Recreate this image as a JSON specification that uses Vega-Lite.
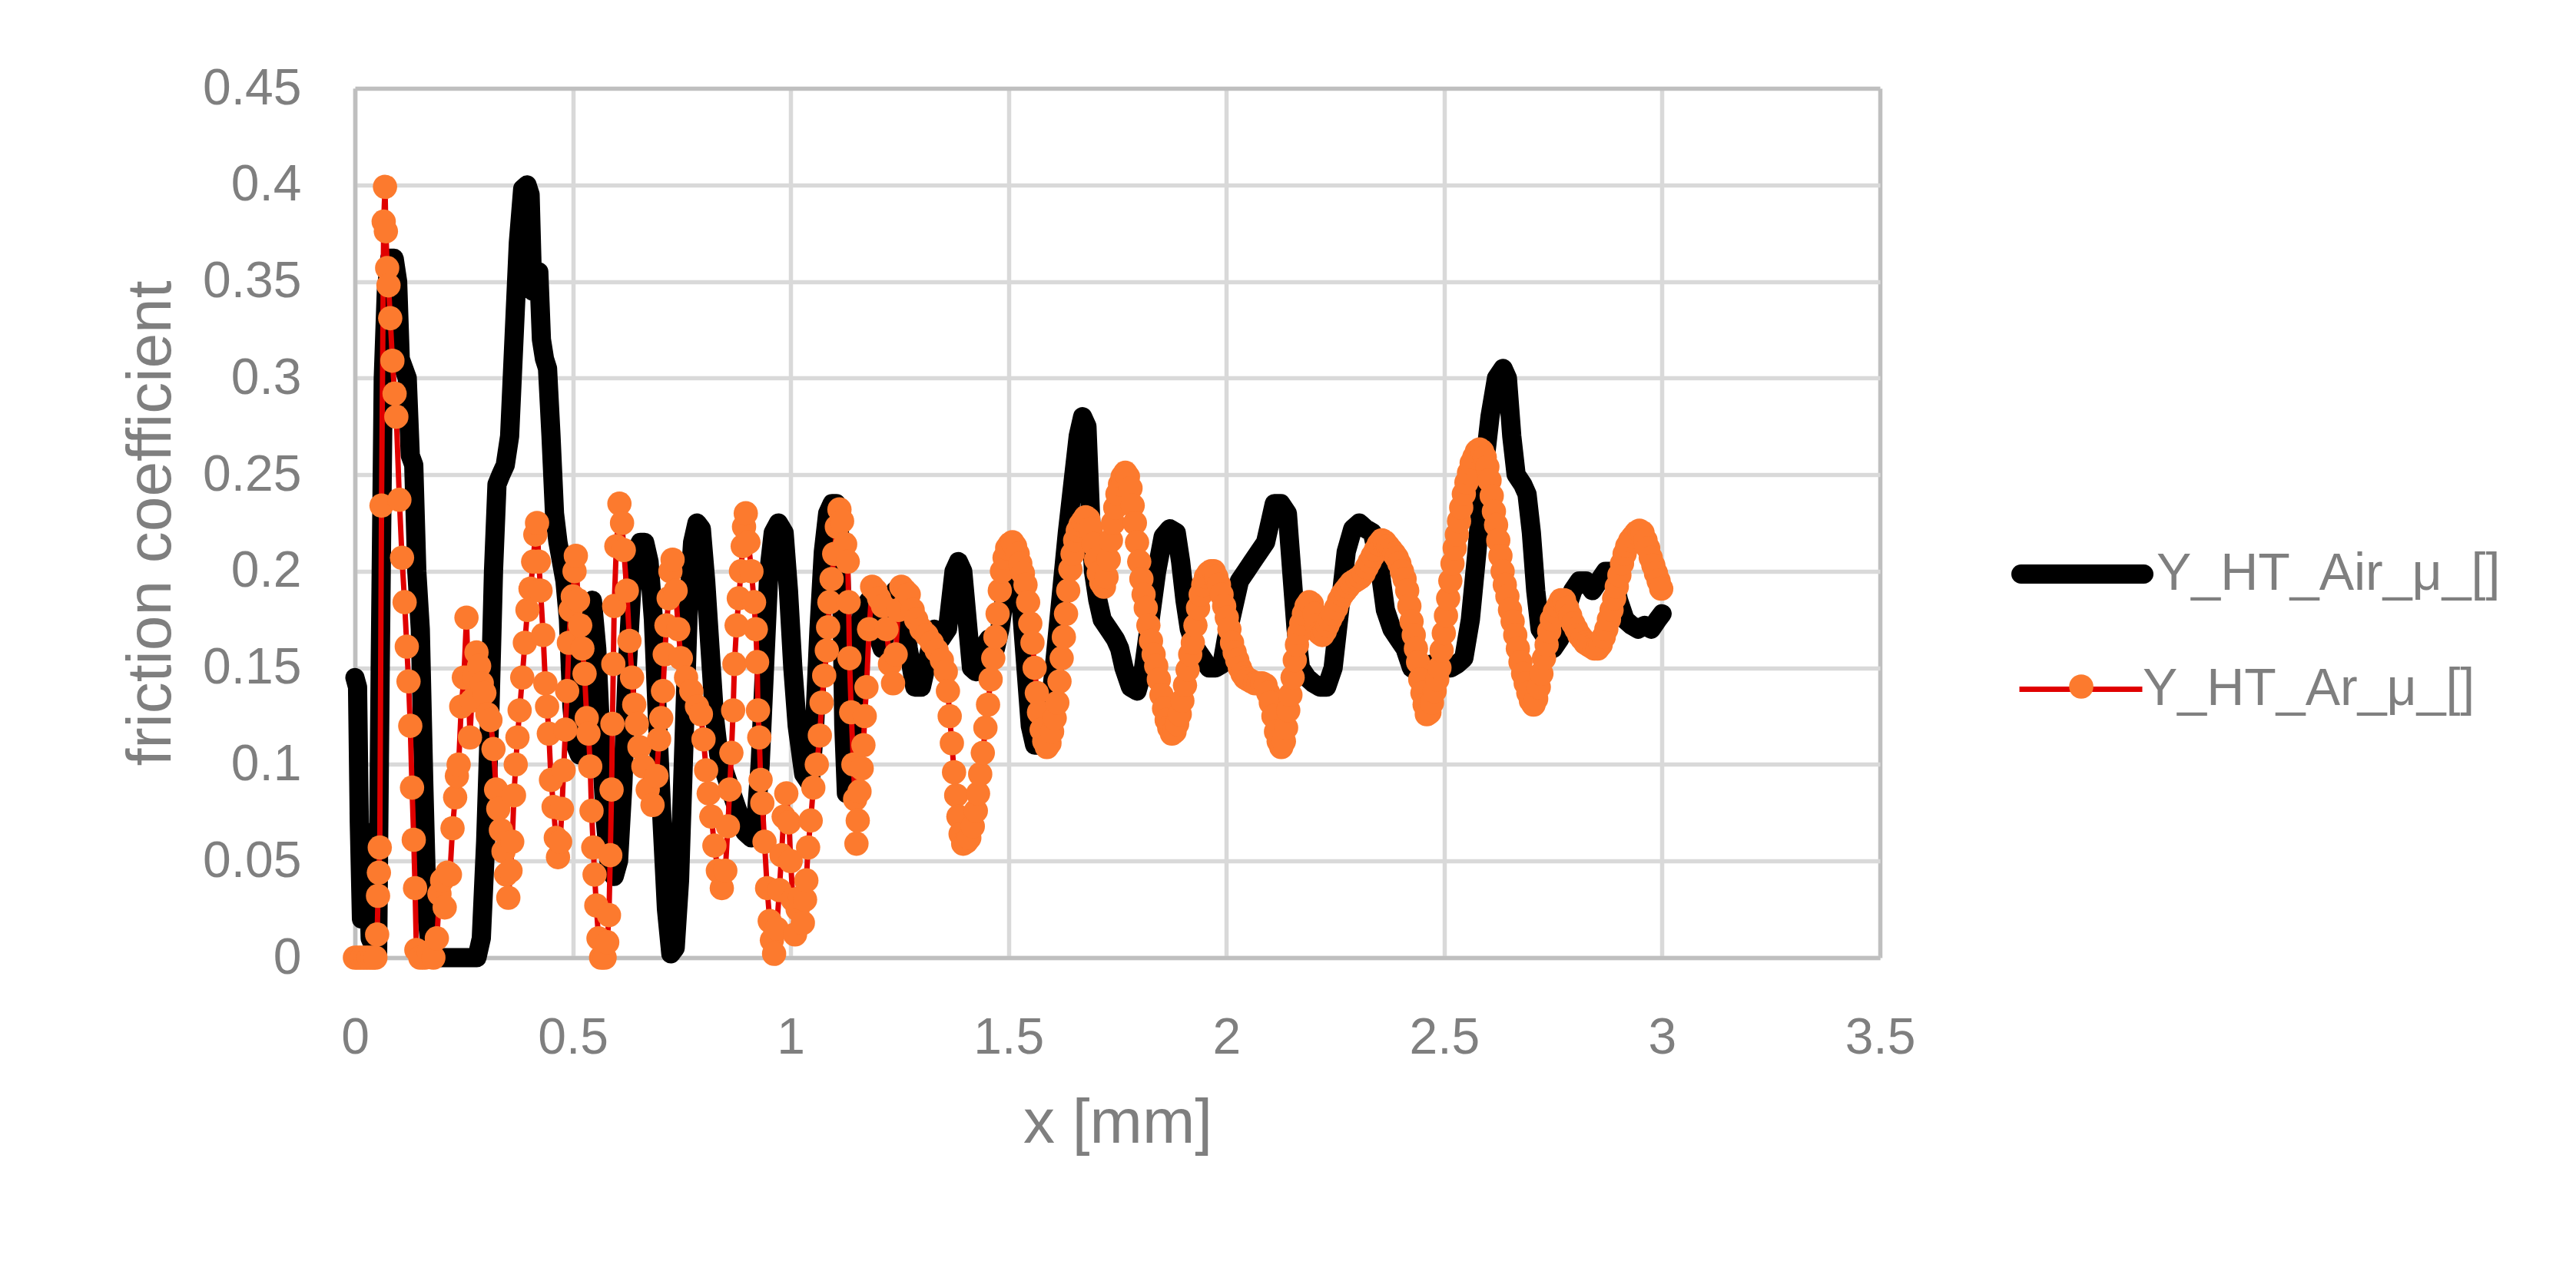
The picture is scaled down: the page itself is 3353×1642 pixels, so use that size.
{
"$schema": "https://vega.github.io/schema/vega-lite/v6.json",
"width": 1985, "height": 1132,
"autosize": {"type": "none"},
"padding": {"left": 462, "top": 115, "right": 906, "bottom": 395},
"background": "white",
"config": {"font": "Liberation Sans", "view": {"stroke": null}},
"datasets": {
"air": [{"x":0,"y":0.145},{"x":0.006,"y":0.14},{"x":0.01,"y":0.07},{"x":0.015,"y":0.02},{"x":0.02,"y":0.06},{"x":0.028,"y":0.065},{"x":0.035,"y":0.01},{"x":0.045,"y":0.005},{"x":0.052,"y":0},{"x":0.058,"y":0.15},{"x":0.065,"y":0.3},{"x":0.072,"y":0.345},{"x":0.08,"y":0.362},{"x":0.09,"y":0.362},{"x":0.098,"y":0.35},{"x":0.104,"y":0.31},{"x":0.112,"y":0.305},{"x":0.12,"y":0.3},{"x":0.127,"y":0.26},{"x":0.135,"y":0.255},{"x":0.142,"y":0.2},{"x":0.15,"y":0.17},{"x":0.158,"y":0.09},{"x":0.166,"y":0.02},{"x":0.175,"y":0},{"x":0.2,"y":0},{"x":0.23,"y":0},{"x":0.26,"y":0},{"x":0.28,"y":0},{"x":0.29,"y":0.01},{"x":0.3,"y":0.06},{"x":0.31,"y":0.13},{"x":0.318,"y":0.2},{"x":0.326,"y":0.245},{"x":0.335,"y":0.25},{"x":0.345,"y":0.255},{"x":0.355,"y":0.27},{"x":0.365,"y":0.32},{"x":0.375,"y":0.37},{"x":0.385,"y":0.398},{"x":0.395,"y":0.4},{"x":0.402,"y":0.395},{"x":0.408,"y":0.345},{"x":0.415,"y":0.355},{"x":0.422,"y":0.355},{"x":0.428,"y":0.32},{"x":0.435,"y":0.31},{"x":0.442,"y":0.305},{"x":0.45,"y":0.27},{"x":0.458,"y":0.23},{"x":0.466,"y":0.215},{"x":0.474,"y":0.205},{"x":0.482,"y":0.195},{"x":0.49,"y":0.175},{"x":0.498,"y":0.13},{"x":0.506,"y":0.11},{"x":0.515,"y":0.105},{"x":0.525,"y":0.108},{"x":0.535,"y":0.15},{"x":0.545,"y":0.185},{"x":0.555,"y":0.16},{"x":0.565,"y":0.11},{"x":0.575,"y":0.07},{"x":0.585,"y":0.045},{"x":0.595,"y":0.042},{"x":0.605,"y":0.05},{"x":0.615,"y":0.09},{"x":0.625,"y":0.15},{"x":0.635,"y":0.19},{"x":0.645,"y":0.21},{"x":0.655,"y":0.215},{"x":0.665,"y":0.215},{"x":0.675,"y":0.205},{"x":0.685,"y":0.175},{"x":0.695,"y":0.12},{"x":0.705,"y":0.07},{"x":0.715,"y":0.025},{"x":0.725,"y":0.002},{"x":0.735,"y":0.005},{"x":0.745,"y":0.04},{"x":0.755,"y":0.11},{"x":0.765,"y":0.18},{"x":0.775,"y":0.215},{"x":0.785,"y":0.225},{"x":0.795,"y":0.222},{"x":0.805,"y":0.195},{"x":0.815,"y":0.16},{"x":0.825,"y":0.125},{"x":0.835,"y":0.105},{"x":0.85,"y":0.095},{"x":0.865,"y":0.085},{"x":0.88,"y":0.075},{"x":0.895,"y":0.065},{"x":0.91,"y":0.062},{"x":0.92,"y":0.07},{"x":0.93,"y":0.1},{"x":0.94,"y":0.15},{"x":0.95,"y":0.2},{"x":0.96,"y":0.22},{"x":0.972,"y":0.225},{"x":0.985,"y":0.22},{"x":0.995,"y":0.19},{"x":1.005,"y":0.15},{"x":1.015,"y":0.12},{"x":1.03,"y":0.095},{"x":1.045,"y":0.09},{"x":1.055,"y":0.12},{"x":1.065,"y":0.17},{"x":1.075,"y":0.21},{"x":1.085,"y":0.23},{"x":1.095,"y":0.235},{"x":1.105,"y":0.235},{"x":1.112,"y":0.22},{"x":1.118,"y":0.18},{"x":1.122,"y":0.12},{"x":1.128,"y":0.085},{"x":1.135,"y":0.085},{"x":1.145,"y":0.13},{"x":1.155,"y":0.165},{"x":1.165,"y":0.18},{"x":1.18,"y":0.185},{"x":1.195,"y":0.17},{"x":1.21,"y":0.16},{"x":1.225,"y":0.175},{"x":1.24,"y":0.19},{"x":1.255,"y":0.185},{"x":1.27,"y":0.16},{"x":1.285,"y":0.14},{"x":1.3,"y":0.14},{"x":1.315,"y":0.155},{"x":1.33,"y":0.17},{"x":1.345,"y":0.165},{"x":1.36,"y":0.17},{"x":1.375,"y":0.2},{"x":1.385,"y":0.205},{"x":1.395,"y":0.2},{"x":1.405,"y":0.175},{"x":1.415,"y":0.15},{"x":1.425,"y":0.148},{"x":1.44,"y":0.16},{"x":1.455,"y":0.165},{"x":1.47,"y":0.16},{"x":1.48,"y":0.17},{"x":1.49,"y":0.185},{"x":1.5,"y":0.2},{"x":1.51,"y":0.21},{"x":1.52,"y":0.205},{"x":1.53,"y":0.18},{"x":1.54,"y":0.15},{"x":1.55,"y":0.12},{"x":1.56,"y":0.11},{"x":1.575,"y":0.11},{"x":1.59,"y":0.12},{"x":1.605,"y":0.15},{"x":1.62,"y":0.185},{"x":1.635,"y":0.22},{"x":1.65,"y":0.25},{"x":1.66,"y":0.27},{"x":1.67,"y":0.28},{"x":1.68,"y":0.275},{"x":1.688,"y":0.23},{"x":1.695,"y":0.2},{"x":1.705,"y":0.185},{"x":1.715,"y":0.175},{"x":1.73,"y":0.17},{"x":1.745,"y":0.165},{"x":1.755,"y":0.16},{"x":1.765,"y":0.15},{"x":1.78,"y":0.14},{"x":1.795,"y":0.138},{"x":1.81,"y":0.15},{"x":1.825,"y":0.175},{"x":1.84,"y":0.2},{"x":1.855,"y":0.218},{"x":1.87,"y":0.222},{"x":1.885,"y":0.22},{"x":1.895,"y":0.205},{"x":1.905,"y":0.185},{"x":1.915,"y":0.17},{"x":1.93,"y":0.16},{"x":1.945,"y":0.155},{"x":1.96,"y":0.15},{"x":1.975,"y":0.15},{"x":1.99,"y":0.152},{"x":2.0,"y":0.165},{"x":2.015,"y":0.18},{"x":2.03,"y":0.195},{"x":2.045,"y":0.2},{"x":2.06,"y":0.205},{"x":2.075,"y":0.21},{"x":2.09,"y":0.215},{"x":2.1,"y":0.225},{"x":2.11,"y":0.235},{"x":2.125,"y":0.235},{"x":2.14,"y":0.23},{"x":2.15,"y":0.2},{"x":2.16,"y":0.17},{"x":2.17,"y":0.15},{"x":2.185,"y":0.145},{"x":2.2,"y":0.142},{"x":2.215,"y":0.14},{"x":2.23,"y":0.14},{"x":2.245,"y":0.15},{"x":2.26,"y":0.18},{"x":2.275,"y":0.21},{"x":2.29,"y":0.222},{"x":2.305,"y":0.225},{"x":2.32,"y":0.222},{"x":2.335,"y":0.22},{"x":2.35,"y":0.205},{"x":2.365,"y":0.18},{"x":2.38,"y":0.17},{"x":2.395,"y":0.165},{"x":2.41,"y":0.16},{"x":2.425,"y":0.15},{"x":2.44,"y":0.148},{"x":2.455,"y":0.15},{"x":2.47,"y":0.152},{"x":2.485,"y":0.152},{"x":2.5,"y":0.15},{"x":2.515,"y":0.15},{"x":2.53,"y":0.152},{"x":2.545,"y":0.155},{"x":2.56,"y":0.175},{"x":2.575,"y":0.21},{"x":2.59,"y":0.25},{"x":2.605,"y":0.28},{"x":2.62,"y":0.3},{"x":2.635,"y":0.305},{"x":2.645,"y":0.3},{"x":2.655,"y":0.27},{"x":2.665,"y":0.25},{"x":2.68,"y":0.245},{"x":2.69,"y":0.24},{"x":2.7,"y":0.22},{"x":2.71,"y":0.19},{"x":2.72,"y":0.17},{"x":2.735,"y":0.165},{"x":2.75,"y":0.16},{"x":2.765,"y":0.165},{"x":2.78,"y":0.18},{"x":2.795,"y":0.19},{"x":2.81,"y":0.195},{"x":2.825,"y":0.195},{"x":2.84,"y":0.19},{"x":2.855,"y":0.195},{"x":2.87,"y":0.2},{"x":2.885,"y":0.2},{"x":2.9,"y":0.185},{"x":2.915,"y":0.175},{"x":2.93,"y":0.172},{"x":2.945,"y":0.17},{"x":2.96,"y":0.172},{"x":2.975,"y":0.17},{"x":2.99,"y":0.175},{"x":3.0,"y":0.178}],
"ar": [{"x":0,"y":0},{"x":0.008,"y":0},{"x":0.016,"y":0},{"x":0.024,"y":0},{"x":0.032,"y":0},{"x":0.04,"y":0},{"x":0.047,"y":0},{"x":0.051,"y":0.012},{"x":0.053,"y":0.032},{"x":0.055,"y":0.044},{"x":0.057,"y":0.057},{"x":0.061,"y":0.234},{"x":0.066,"y":0.381},{"x":0.069,"y":0.399},{"x":0.071,"y":0.376},{"x":0.074,"y":0.357},{"x":0.077,"y":0.348},{"x":0.081,"y":0.331},{"x":0.086,"y":0.309},{"x":0.091,"y":0.292},{"x":0.095,"y":0.28},{"x":0.102,"y":0.237},{"x":0.108,"y":0.207},{"x":0.114,"y":0.184},{"x":0.119,"y":0.161},{"x":0.123,"y":0.143},{"x":0.127,"y":0.12},{"x":0.131,"y":0.088},{"x":0.135,"y":0.061},{"x":0.138,"y":0.036},{"x":0.141,"y":0.004},{"x":0.15,"y":0},{"x":0.16,"y":0},{"x":0.17,"y":0.003},{"x":0.18,"y":0},{"x":0.188,"y":0.01},{"x":0.194,"y":0.033},{"x":0.2,"y":0.04},{"x":0.206,"y":0.026},{"x":0.212,"y":0.044},{"x":0.218,"y":0.043},{"x":0.224,"y":0.067},{"x":0.23,"y":0.083},{"x":0.234,"y":0.094},{"x":0.238,"y":0.1},{"x":0.244,"y":0.13},{"x":0.25,"y":0.145},{"x":0.256,"y":0.176},{"x":0.26,"y":0.145},{"x":0.264,"y":0.114},{"x":0.268,"y":0.133},{"x":0.273,"y":0.145},{"x":0.279,"y":0.158},{"x":0.285,"y":0.151},{"x":0.291,"y":0.142},{"x":0.297,"y":0.137},{"x":0.304,"y":0.126},{"x":0.311,"y":0.123},{"x":0.318,"y":0.108},{"x":0.324,"y":0.087},{"x":0.329,"y":0.077},{"x":0.335,"y":0.066},{"x":0.341,"y":0.055},{"x":0.347,"y":0.043},{"x":0.352,"y":0.031},{"x":0.357,"y":0.045},{"x":0.361,"y":0.06},{"x":0.365,"y":0.084},{"x":0.369,"y":0.1},{"x":0.373,"y":0.114},{"x":0.378,"y":0.128},{"x":0.384,"y":0.145},{"x":0.39,"y":0.163},{"x":0.396,"y":0.18},{"x":0.403,"y":0.191},{"x":0.409,"y":0.205},{"x":0.414,"y":0.219},{"x":0.418,"y":0.225},{"x":0.422,"y":0.205},{"x":0.426,"y":0.19},{"x":0.432,"y":0.167},{"x":0.437,"y":0.142},{"x":0.441,"y":0.13},{"x":0.445,"y":0.116},{"x":0.45,"y":0.092},{"x":0.456,"y":0.078},{"x":0.461,"y":0.062},{"x":0.466,"y":0.052},{"x":0.471,"y":0.06},{"x":0.475,"y":0.077},{"x":0.479,"y":0.097},{"x":0.483,"y":0.118},{"x":0.487,"y":0.138},{"x":0.491,"y":0.163},{"x":0.495,"y":0.18},{"x":0.5,"y":0.187},{"x":0.504,"y":0.2},{"x":0.507,"y":0.208},{"x":0.512,"y":0.185},{"x":0.517,"y":0.172},{"x":0.522,"y":0.16},{"x":0.527,"y":0.147},{"x":0.532,"y":0.124},{"x":0.536,"y":0.116},{"x":0.54,"y":0.099},{"x":0.543,"y":0.076},{"x":0.547,"y":0.057},{"x":0.55,"y":0.043},{"x":0.554,"y":0.027},{"x":0.559,"y":0.01},{"x":0.565,"y":0},{"x":0.573,"y":0},{"x":0.579,"y":0.008},{"x":0.583,"y":0.022},{"x":0.586,"y":0.053},{"x":0.589,"y":0.087},{"x":0.591,"y":0.121},{"x":0.593,"y":0.152},{"x":0.595,"y":0.182},{"x":0.6,"y":0.213},{"x":0.607,"y":0.235},{"x":0.613,"y":0.225},{"x":0.617,"y":0.211},{"x":0.624,"y":0.19},{"x":0.63,"y":0.164},{"x":0.636,"y":0.145},{"x":0.641,"y":0.131},{"x":0.647,"y":0.121},{"x":0.653,"y":0.109},{"x":0.662,"y":0.099},{"x":0.672,"y":0.087},{"x":0.683,"y":0.079},{"x":0.692,"y":0.094},{"x":0.698,"y":0.113},{"x":0.703,"y":0.124},{"x":0.707,"y":0.138},{"x":0.711,"y":0.157},{"x":0.715,"y":0.172},{"x":0.72,"y":0.186},{"x":0.724,"y":0.2},{"x":0.729,"y":0.206},{"x":0.736,"y":0.19},{"x":0.742,"y":0.17},{"x":0.748,"y":0.155},{"x":0.76,"y":0.145},{"x":0.772,"y":0.138},{"x":0.785,"y":0.13},{"x":0.794,"y":0.126},{"x":0.8,"y":0.113},{"x":0.806,"y":0.097},{"x":0.812,"y":0.085},{"x":0.818,"y":0.073},{"x":0.825,"y":0.058},{"x":0.833,"y":0.045},{"x":0.842,"y":0.036},{"x":0.85,"y":0.045},{"x":0.856,"y":0.068},{"x":0.86,"y":0.087},{"x":0.864,"y":0.106},{"x":0.868,"y":0.128},{"x":0.871,"y":0.152},{"x":0.876,"y":0.172},{"x":0.881,"y":0.186},{"x":0.886,"y":0.2},{"x":0.89,"y":0.213},{"x":0.893,"y":0.223},{"x":0.897,"y":0.23},{"x":0.903,"y":0.215},{"x":0.91,"y":0.2},{"x":0.916,"y":0.184},{"x":0.92,"y":0.17},{"x":0.923,"y":0.153},{"x":0.925,"y":0.128},{"x":0.928,"y":0.114},{"x":0.931,"y":0.092},{"x":0.935,"y":0.08},{"x":0.94,"y":0.06},{"x":0.946,"y":0.036},{"x":0.952,"y":0.019},{"x":0.957,"y":0.009},{"x":0.962,"y":0.002},{"x":0.968,"y":0.015},{"x":0.974,"y":0.035},{"x":0.979,"y":0.053},{"x":0.984,"y":0.073},{"x":0.99,"y":0.085},{"x":0.996,"y":0.07},{"x":1.0,"y":0.05},{"x":1.005,"y":0.03},{"x":1.01,"y":0.012},{"x":1.016,"y":0.025},{"x":1.022,"y":0.031},{"x":1.028,"y":0.018},{"x":1.033,"y":0.03},{"x":1.036,"y":0.04},{"x":1.04,"y":0.057},{"x":1.046,"y":0.071},{"x":1.052,"y":0.088},{"x":1.06,"y":0.1},{"x":1.067,"y":0.115},{"x":1.071,"y":0.132},{"x":1.077,"y":0.146},{"x":1.083,"y":0.159},{"x":1.086,"y":0.171},{"x":1.089,"y":0.184},{"x":1.094,"y":0.196},{"x":1.1,"y":0.209},{"x":1.106,"y":0.223},{"x":1.112,"y":0.232},{"x":1.118,"y":0.226},{"x":1.125,"y":0.214},{"x":1.131,"y":0.205},{"x":1.133,"y":0.184},{"x":1.135,"y":0.155},{"x":1.139,"y":0.127},{"x":1.144,"y":0.1},{"x":1.148,"y":0.082},{"x":1.151,"y":0.059},{"x":1.154,"y":0.071},{"x":1.158,"y":0.086},{"x":1.163,"y":0.098},{"x":1.167,"y":0.11},{"x":1.17,"y":0.125},{"x":1.174,"y":0.14},{"x":1.18,"y":0.17},{"x":1.187,"y":0.192},{"x":1.195,"y":0.19},{"x":1.203,"y":0.186},{"x":1.212,"y":0.182},{"x":1.22,"y":0.17},{"x":1.228,"y":0.152},{"x":1.235,"y":0.142},{"x":1.241,"y":0.157},{"x":1.247,"y":0.18},{"x":1.254,"y":0.192},{"x":1.262,"y":0.19},{"x":1.271,"y":0.188},{"x":1.28,"y":0.18},{"x":1.288,"y":0.175},{"x":1.3,"y":0.17},{"x":1.312,"y":0.167},{"x":1.324,"y":0.163},{"x":1.335,"y":0.159},{"x":1.347,"y":0.154},{"x":1.356,"y":0.148},{"x":1.361,"y":0.138},{"x":1.365,"y":0.125},{"x":1.37,"y":0.111},{"x":1.375,"y":0.096},{"x":1.38,"y":0.084},{"x":1.385,"y":0.073},{"x":1.39,"y":0.064},{"x":1.396,"y":0.059},{"x":1.403,"y":0.06},{"x":1.41,"y":0.062},{"x":1.418,"y":0.068},{"x":1.425,"y":0.076},{"x":1.43,"y":0.085},{"x":1.435,"y":0.095},{"x":1.441,"y":0.106},{"x":1.447,"y":0.119},{"x":1.453,"y":0.131},{"x":1.459,"y":0.144},{"x":1.465,"y":0.155},{"x":1.47,"y":0.166},{"x":1.475,"y":0.178},{"x":1.48,"y":0.19},{"x":1.485,"y":0.2},{"x":1.491,"y":0.207},{"x":1.497,"y":0.212},{"x":1.503,"y":0.214},{"x":1.509,"y":0.215},{"x":1.515,"y":0.213},{"x":1.521,"y":0.209},{"x":1.527,"y":0.204},{"x":1.533,"y":0.199},{"x":1.539,"y":0.193},{"x":1.545,"y":0.184},{"x":1.55,"y":0.173},{"x":1.555,"y":0.163},{"x":1.56,"y":0.15},{"x":1.565,"y":0.137},{"x":1.57,"y":0.127},{"x":1.576,"y":0.118},{"x":1.582,"y":0.112},{"x":1.588,"y":0.109},{"x":1.594,"y":0.111},{"x":1.6,"y":0.117},{"x":1.606,"y":0.124},{"x":1.612,"y":0.132},{"x":1.617,"y":0.143},{"x":1.622,"y":0.155},{"x":1.627,"y":0.166},{"x":1.632,"y":0.178},{"x":1.637,"y":0.19},{"x":1.642,"y":0.201},{"x":1.647,"y":0.209},{"x":1.653,"y":0.216},{"x":1.659,"y":0.221},{"x":1.665,"y":0.224},{"x":1.671,"y":0.226},{"x":1.677,"y":0.228},{"x":1.683,"y":0.227},{"x":1.689,"y":0.222},{"x":1.695,"y":0.214},{"x":1.701,"y":0.206},{"x":1.707,"y":0.199},{"x":1.713,"y":0.194},{"x":1.719,"y":0.192},{"x":1.725,"y":0.197},{"x":1.73,"y":0.206},{"x":1.735,"y":0.216},{"x":1.74,"y":0.225},{"x":1.745,"y":0.233},{"x":1.75,"y":0.24},{"x":1.756,"y":0.245},{"x":1.762,"y":0.249},{"x":1.768,"y":0.251},{"x":1.774,"y":0.249},{"x":1.78,"y":0.243},{"x":1.785,"y":0.234},{"x":1.79,"y":0.225},{"x":1.795,"y":0.215},{"x":1.8,"y":0.205},{"x":1.805,"y":0.196},{"x":1.81,"y":0.188},{"x":1.815,"y":0.181},{"x":1.821,"y":0.172},{"x":1.827,"y":0.164},{"x":1.833,"y":0.157},{"x":1.839,"y":0.151},{"x":1.845,"y":0.144},{"x":1.851,"y":0.136},{"x":1.857,"y":0.129},{"x":1.863,"y":0.123},{"x":1.869,"y":0.119},{"x":1.875,"y":0.116},{"x":1.881,"y":0.117},{"x":1.887,"y":0.121},{"x":1.893,"y":0.126},{"x":1.899,"y":0.133},{"x":1.905,"y":0.141},{"x":1.911,"y":0.149},{"x":1.917,"y":0.157},{"x":1.923,"y":0.163},{"x":1.929,"y":0.172},{"x":1.935,"y":0.181},{"x":1.941,"y":0.188},{"x":1.947,"y":0.193},{"x":1.953,"y":0.197},{"x":1.959,"y":0.199},{"x":1.965,"y":0.2},{"x":1.971,"y":0.2},{"x":1.977,"y":0.197},{"x":1.983,"y":0.193},{"x":1.989,"y":0.188},{"x":1.995,"y":0.182},{"x":2.001,"y":0.176},{"x":2.007,"y":0.17},{"x":2.013,"y":0.163},{"x":2.019,"y":0.158},{"x":2.025,"y":0.154},{"x":2.031,"y":0.15},{"x":2.037,"y":0.147},{"x":2.043,"y":0.145},{"x":2.05,"y":0.144},{"x":2.058,"y":0.143},{"x":2.066,"y":0.142},{"x":2.074,"y":0.142},{"x":2.082,"y":0.142},{"x":2.09,"y":0.141},{"x":2.096,"y":0.137},{"x":2.102,"y":0.132},{"x":2.108,"y":0.125},{"x":2.114,"y":0.117},{"x":2.12,"y":0.112},{"x":2.126,"y":0.109},{"x":2.132,"y":0.112},{"x":2.137,"y":0.119},{"x":2.142,"y":0.128},{"x":2.147,"y":0.136},{"x":2.152,"y":0.145},{"x":2.157,"y":0.154},{"x":2.162,"y":0.162},{"x":2.167,"y":0.168},{"x":2.172,"y":0.173},{"x":2.178,"y":0.178},{"x":2.184,"y":0.182},{"x":2.19,"y":0.184},{"x":2.196,"y":0.183},{"x":2.202,"y":0.178},{"x":2.208,"y":0.172},{"x":2.214,"y":0.168},{"x":2.22,"y":0.167},{"x":2.226,"y":0.169},{"x":2.232,"y":0.172},{"x":2.238,"y":0.175},{"x":2.245,"y":0.178},{"x":2.252,"y":0.181},{"x":2.259,"y":0.185},{"x":2.266,"y":0.188},{"x":2.273,"y":0.19},{"x":2.28,"y":0.192},{"x":2.287,"y":0.194},{"x":2.294,"y":0.195},{"x":2.301,"y":0.196},{"x":2.308,"y":0.197},{"x":2.315,"y":0.199},{"x":2.322,"y":0.202},{"x":2.329,"y":0.205},{"x":2.336,"y":0.208},{"x":2.343,"y":0.211},{"x":2.35,"y":0.214},{"x":2.357,"y":0.216},{"x":2.364,"y":0.215},{"x":2.371,"y":0.213},{"x":2.378,"y":0.211},{"x":2.385,"y":0.209},{"x":2.391,"y":0.207},{"x":2.397,"y":0.204},{"x":2.403,"y":0.2},{"x":2.409,"y":0.196},{"x":2.415,"y":0.19},{"x":2.42,"y":0.182},{"x":2.425,"y":0.174},{"x":2.43,"y":0.167},{"x":2.435,"y":0.16},{"x":2.44,"y":0.153},{"x":2.445,"y":0.144},{"x":2.45,"y":0.137},{"x":2.455,"y":0.131},{"x":2.46,"y":0.126},{"x":2.466,"y":0.127},{"x":2.472,"y":0.132},{"x":2.478,"y":0.138},{"x":2.484,"y":0.144},{"x":2.489,"y":0.15},{"x":2.494,"y":0.159},{"x":2.499,"y":0.168},{"x":2.504,"y":0.177},{"x":2.509,"y":0.186},{"x":2.514,"y":0.195},{"x":2.519,"y":0.204},{"x":2.524,"y":0.212},{"x":2.529,"y":0.219},{"x":2.534,"y":0.226},{"x":2.539,"y":0.233},{"x":2.545,"y":0.24},{"x":2.551,"y":0.246},{"x":2.557,"y":0.251},{"x":2.563,"y":0.256},{"x":2.569,"y":0.259},{"x":2.575,"y":0.262},{"x":2.581,"y":0.263},{"x":2.587,"y":0.262},{"x":2.593,"y":0.259},{"x":2.599,"y":0.254},{"x":2.604,"y":0.247},{"x":2.609,"y":0.239},{"x":2.614,"y":0.231},{"x":2.619,"y":0.224},{"x":2.624,"y":0.216},{"x":2.629,"y":0.208},{"x":2.634,"y":0.2},{"x":2.639,"y":0.193},{"x":2.645,"y":0.187},{"x":2.651,"y":0.18},{"x":2.657,"y":0.174},{"x":2.663,"y":0.167},{"x":2.669,"y":0.16},{"x":2.675,"y":0.153},{"x":2.681,"y":0.147},{"x":2.687,"y":0.142},{"x":2.693,"y":0.137},{"x":2.699,"y":0.133},{"x":2.705,"y":0.131},{"x":2.711,"y":0.134},{"x":2.717,"y":0.14},{"x":2.723,"y":0.147},{"x":2.729,"y":0.155},{"x":2.735,"y":0.162},{"x":2.741,"y":0.169},{"x":2.747,"y":0.175},{"x":2.754,"y":0.179},{"x":2.761,"y":0.182},{"x":2.768,"y":0.185},{"x":2.775,"y":0.185},{"x":2.782,"y":0.181},{"x":2.789,"y":0.177},{"x":2.796,"y":0.173},{"x":2.803,"y":0.17},{"x":2.81,"y":0.167},{"x":2.817,"y":0.165},{"x":2.824,"y":0.163},{"x":2.831,"y":0.162},{"x":2.838,"y":0.161},{"x":2.845,"y":0.16},{"x":2.852,"y":0.16},{"x":2.859,"y":0.162},{"x":2.866,"y":0.166},{"x":2.872,"y":0.17},{"x":2.878,"y":0.175},{"x":2.884,"y":0.18},{"x":2.89,"y":0.186},{"x":2.896,"y":0.192},{"x":2.902,"y":0.198},{"x":2.908,"y":0.204},{"x":2.914,"y":0.209},{"x":2.92,"y":0.213},{"x":2.927,"y":0.216},{"x":2.934,"y":0.218},{"x":2.941,"y":0.22},{"x":2.948,"y":0.221},{"x":2.955,"y":0.22},{"x":2.962,"y":0.216},{"x":2.968,"y":0.212},{"x":2.974,"y":0.207},{"x":2.98,"y":0.203},{"x":2.986,"y":0.199},{"x":2.992,"y":0.195},{"x":2.998,"y":0.191}]
},
"encoding": {
  "x": {"field": "x", "type": "quantitative", "title": "x [mm]",
    "scale": {"domain": [0, 3.5], "nice": false, "zero": false},
    "axis": {"values": [0, 0.5, 1, 1.5, 2, 2.5, 3, 3.5], "format": "~g", "grid": true,
      "gridColor": {"condition": {"test": "datum.value == 3.5", "value": "#BFBFBF"}, "value": "#D9D9D9"},
      "gridWidth": 5.5, "domainColor": "#BFBFBF", "domainWidth": 5.5, "ticks": false,
      "labelFlush": false, "labelOverlap": false, "labelPadding": 72, "labelFontSize": 66, "labelColor": "#7F7F7F",
      "titleFontSize": 82, "titleColor": "#7F7F7F", "titleFontWeight": "normal", "titlePadding": 38}},
  "y": {"field": "y", "type": "quantitative", "title": "friction coefficient",
    "scale": {"domain": [0, 0.45], "nice": false, "zero": false},
    "axis": {"values": [0, 0.05, 0.1, 0.15, 0.2, 0.25, 0.3, 0.35, 0.4, 0.45], "format": "~g", "grid": true,
      "gridColor": {"condition": {"test": "datum.value == 0.45", "value": "#BFBFBF"}, "value": "#D9D9D9"},
      "gridWidth": 5.5, "domainColor": "#BFBFBF", "domainWidth": 5.5, "ticks": false,
      "labelFlush": false, "labelOverlap": false, "labelPadding": 70, "labelFontSize": 66, "labelColor": "#7F7F7F",
      "titleFontSize": 82, "titleColor": "#7F7F7F", "titleFontWeight": "normal", "titlePadding": 25}}
},
"layer": [
  {"data": {"name": "air"},
   "mark": {"type": "line", "strokeCap": "round", "strokeJoin": "round", "strokeWidth": 25},
   "encoding": {
     "stroke": {"datum": "Y_HT_Air_μ_[]", "type": "nominal",
       "scale": {"domain": ["Y_HT_Air_μ_[]"], "range": ["#000000"]},
       "legend": {"orient": "none", "legendX": 2156, "legendY": 540, "title": null, "symbolType": "stroke", "symbolSize": 25600,
         "symbolStrokeWidth": 25, "labelFontSize": 68, "labelColor": "#7F7F7F", "labelOffset": 4, "labelLimit": 0, "padding": 0, "symbolOpacity": 1,
         "encode": {"symbols": {"update": {"strokeCap": {"value": "round"}}}}}}
   }},
  {"data": {"name": "ar"},
   "mark": {"type": "line", "stroke": "#E00000", "strokeWidth": 7, "strokeJoin": "round"},
   "encoding": {
     "strokeDash": {"datum": "Y_HT_Ar_μ_[]", "type": "nominal",
       "scale": {"domain": ["Y_HT_Ar_μ_[]"], "range": [[1, 0]]},
       "legend": {"orient": "none", "legendX": 2163, "legendY": 699, "title": null, "symbolType": "stroke", "symbolSize": 25600,
         "symbolStrokeWidth": 7, "symbolStrokeColor": "#E00000", "labelFontSize": 68, "labelColor": "#7F7F7F", "labelOffset": -3, "labelLimit": 0, "padding": 0, "symbolOpacity": 1}}
   }},
  {"data": {"name": "ar"},
   "mark": {"type": "point", "shape": "circle", "filled": true, "opacity": 1, "size": 1000, "strokeWidth": 0},
   "encoding": {
     "fill": {"datum": "Ar marker", "type": "nominal",
       "scale": {"domain": ["Ar marker"], "range": ["#FC7A2E"]},
       "legend": {"orient": "none", "legendX": 2231, "legendY": 763, "title": null, "symbolType": "circle", "symbolSize": 1000,
         "labelExpr": "''", "padding": 0, "symbolOpacity": 1, "symbolStrokeWidth": 0}}
   }}
]
}
